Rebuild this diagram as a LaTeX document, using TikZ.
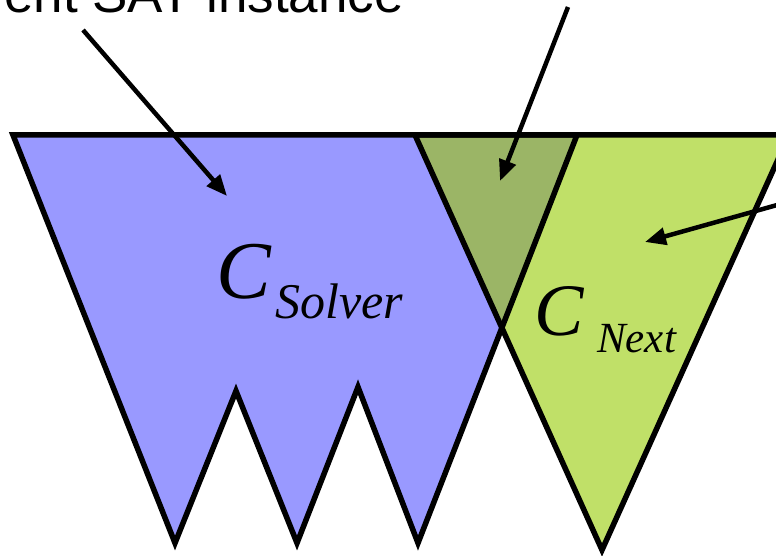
\documentclass[tikz,border=0pt]{standalone}
\usepackage{fontspec}
\setmainfont{Liberation Serif}
\newfontfamily\labelsans{Liberation Sans}
\usetikzlibrary{arrows.meta}
\definecolor{solverblue}{HTML}{9999FF}
\definecolor{nextgreen}{HTML}{C0E068}
\definecolor{overlapgreen}{HTML}{9BB566}
\tikzset{
  outline/.style={draw=black, line width=5.5pt, line join=miter},
  pointer/.style={draw=black, line width=4.5pt, -{Triangle[length=21pt,width=17pt]}},
  mathlabel/.style={inner sep=0pt, anchor=base west},
}
\begin{document}
\begin{tikzpicture}[x=1pt, y=-1pt]
\useasboundingbox (0,0) rectangle (776,556);
\clip (0,0) rectangle (776,556);
% key points
\coordinate (TL) at (13,135);
\coordinate (B1) at (175,543);
\coordinate (N1) at (236,391);
\coordinate (B2) at (297,543);
\coordinate (N2) at (358,387);
\coordinate (B3) at (418,543);
\coordinate (TR) at (577,135);
\coordinate (GL) at (415,135);
\coordinate (GB) at (602,550);
\coordinate (GR) at (789,135);
% fills
\fill[solverblue] (TL) -- (B1) -- (N1) -- (B2) -- (N2) -- (B3) -- (TR) -- cycle;
\fill[nextgreen] (GL) -- (GB) -- (GR) -- cycle;
\begin{scope}
  \clip (TL) -- (B1) -- (N1) -- (B2) -- (N2) -- (B3) -- (TR) -- cycle;
  \fill[overlapgreen] (GL) -- (GB) -- (GR) -- cycle;
\end{scope}
% outlines
\draw[outline] (TL) -- (B1) -- (N1) -- (B2) -- (N2) -- (B3) -- (TR) -- cycle;
\draw[outline] (GL) -- (GB) -- (GR) -- cycle;
% labels
\node[mathlabel] (csolver) at (216,298) {\fontsize{82}{82}\selectfont\itshape C};
\node[mathlabel] (ssolver) at (275,318) {\fontsize{50}{50}\selectfont\itshape Solver};
\node[mathlabel] (cnext) at (534,335) {\fontsize{74}{74}\selectfont\itshape C};
\node[mathlabel] (snext) at (597,352) {\fontsize{43}{43}\selectfont\itshape Next};
\node[inner sep=0pt, anchor=base east] (sat) at (404,13) {\labelsans\fontsize{53}{53}\selectfont Current SAT instance};
% arrows
\coordinate (a1s) at (83,30);
\coordinate (a1e) at (227,196);
\coordinate (a2s) at (568,7);
\coordinate (a2e) at (500,181);
\coordinate (a3s) at (795,200);
\coordinate (a3e) at (645,242);
\draw[pointer] (a1s) -- (a1e);
\draw[pointer] (a2s) -- (a2e);
\draw[pointer] (a3s) -- (a3e);
\end{tikzpicture}
\end{document}
